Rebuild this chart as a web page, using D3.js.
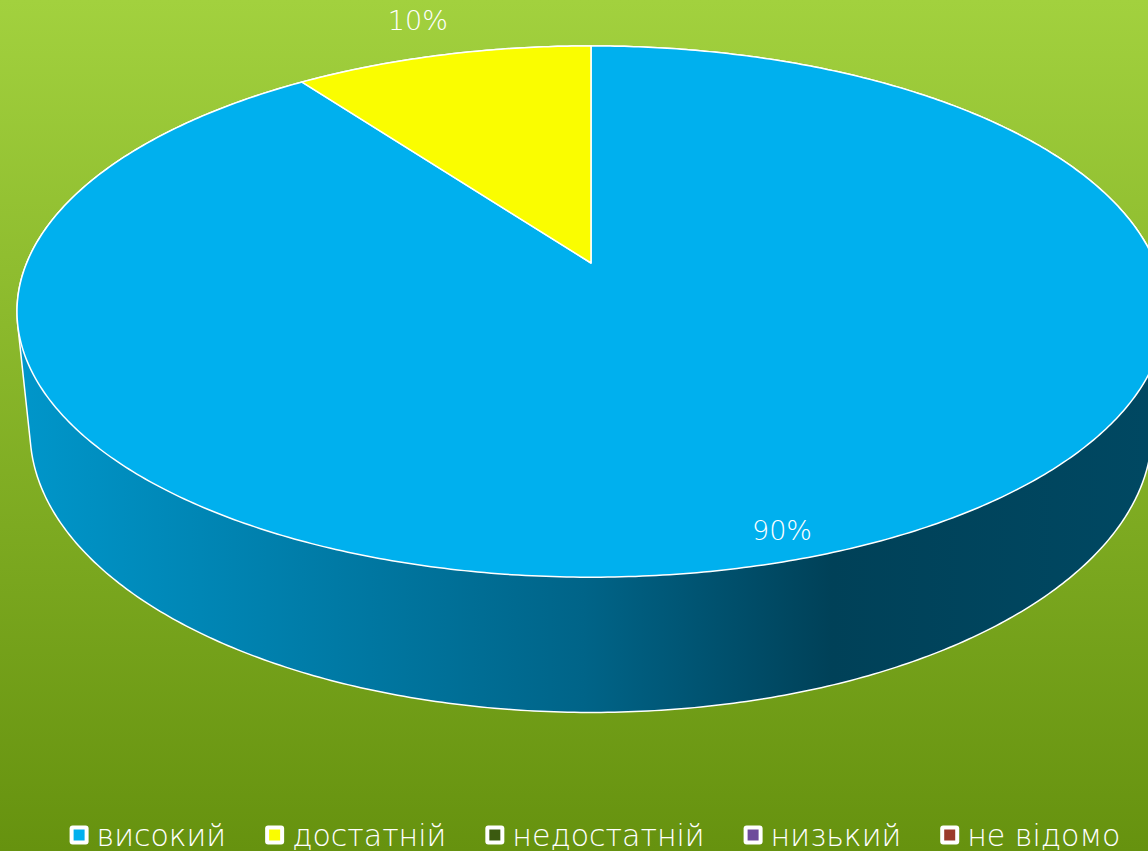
<!DOCTYPE html>
<html>
<head>
<meta charset="utf-8">
<script src="https://cdn.jsdelivr.net/npm/d3@7"></script>
<style>
  html, body { margin: 0; padding: 0; overflow: hidden; }
  svg { display: block; }
  text { font-family: "DejaVu Sans", sans-serif; fill: #fff; }
</style>
</head>
<body>
<div id="chart"></div>
<script>
// data
const categories = ['високий', 'достатній', 'недостатній', 'низький', 'не відомо'];
const values = [90, 10, 0, 0, 0];
const colors = ['#00B0EE', '#FAFD00', '#3B5A10', '#6E4B9B', '#9B3B2B'];

const W = 1148, H = 851;

const data = categories.map((c, i) => ({ name: c, value: values[i], color: colors[i] }));
const total = d3.sum(values);

const svg = d3.select('#chart')
  .append('svg')
  .attr('width', W)
  .attr('height', H);

const defs = svg.append('defs');

// Background gradient
const bg = defs.append('linearGradient')
  .attr('id', 'bg')
  .attr('x1', 0).attr('y1', 0).attr('x2', 0).attr('y2', 1);
bg.append('stop').attr('offset', 0).attr('stop-color', '#a2d13e');
bg.append('stop').attr('offset', 1).attr('stop-color', '#66920f');

svg.append('rect')
  .attr('width', W)
  .attr('height', H)
  .attr('fill', 'url(#bg)');

// Perspective view of the tilted disc
const view = { cx: 591, cy: 263, f: 2750, dist: 4.873, tilt: Math.asin(0.455), depth: 0.24 };
const sinT = Math.sin(view.tilt), cosT = Math.cos(view.tilt);

function project(angle, r, w) {
  const u = r * Math.sin(angle), v = r * Math.cos(angle);
  const yc = v * sinT + w * cosT;
  const zc = view.dist + v * cosT - w * sinT;
  return [view.cx + view.f * u / zc, view.cy - view.f * yc / zc];
}

function arcPoints(a0, a1, w) {
  const n = Math.max(2, Math.ceil((a1 - a0) / 0.01));
  return d3.range(n + 1).map(i => project(a0 + (a1 - a0) * i / n, 1, w));
}

const pie = d3.pie().sort(null).value(d => d.value);
const arcs = pie(data).filter(d => d.value > 0);

// Front-facing part of the outer wall
const frontMin = Math.acos(-1 / (view.dist * cosT));
const frontMax = 2 * Math.PI - frontMin;

// Wall shading: lighter on the left, dark towards the right
const shade = [[0, 0.85], [0.5, 0.57], [0.72, 0.37], [1, 0.41]];
arcs.forEach((d, i) => {
  const g = defs.append('linearGradient')
    .attr('id', 'wall' + i)
    .attr('gradientUnits', 'userSpaceOnUse')
    .attr('x1', 20).attr('y1', 0).attr('x2', W).attr('y2', 0);
  const base = d3.rgb(d.data.color);
  shade.forEach(([o, k]) => {
    g.append('stop')
      .attr('offset', o)
      .attr('stop-color', d3.rgb(base.r * k, base.g * k, base.b * k).formatHex());
  });
});

const line = d3.line();

// Side walls
svg.append('g')
  .selectAll('path')
  .data(arcs)
  .join('path')
  .attr('d', (d, i) => {
    const a0 = Math.max(d.startAngle, frontMin), a1 = Math.min(d.endAngle, frontMax);
    if (a1 <= a0) return null;
    const top = arcPoints(a0, a1, 0);
    const bottom = arcPoints(a0, a1, -view.depth).reverse();
    return line(top.concat(bottom)) + 'Z';
  })
  .attr('fill', (d, i) => 'url(#wall' + i + ')')
  .attr('stroke', 'none');

// Outline of the whole solid
const hull = d3.polygonHull(
  arcPoints(0, 2 * Math.PI, 0).concat(arcPoints(0, 2 * Math.PI, -view.depth))
);
svg.append('path')
  .attr('d', line(hull) + 'Z')
  .attr('fill', 'none')
  .attr('stroke', '#fff')
  .attr('stroke-width', 1.5);

// Top faces
svg.append('g')
  .selectAll('path')
  .data(arcs)
  .join('path')
  .attr('d', d => line([project(0, 0, 0)].concat(arcPoints(d.startAngle, d.endAngle, 0))) + 'Z')
  .attr('fill', d => d.data.color)
  .attr('stroke', '#fff')
  .attr('stroke-width', 1.5)
  .attr('stroke-linejoin', 'round');

// Percent labels
svg.append('g')
  .selectAll('text')
  .data(arcs)
  .join('text')
  .each(function (d) {
    const mid = (d.startAngle + d.endAngle) / 2;
    const share = d.value / total;
    const [x, y] = project(mid, share < 0.15 ? 1.2 : 0.92, 0);
    d3.select(this).attr('x', x).attr('y', y);
  })
  .attr('text-anchor', 'middle')
  .attr('dominant-baseline', 'central')
  .attr('font-size', 27)
  .attr('font-weight', 200)
  .text(d => Math.round(d.value / total * 100) + '%');

// Legend
const legend = svg.append('g');
const items = legend.selectAll('g')
  .data(data)
  .join('g');

items.append('rect')
  .attr('x', 0).attr('y', -9.5)
  .attr('width', 19).attr('height', 19)
  .attr('rx', 3)
  .attr('fill', '#fff');
items.append('rect')
  .attr('x', 4).attr('y', -5.5)
  .attr('width', 11).attr('height', 11)
  .attr('fill', d => d.color);
items.append('text')
  .attr('x', 27)
  .attr('y', 0)
  .attr('dominant-baseline', 'central')
  .attr('font-size', 30)
  .attr('font-weight', 200)
  .text(d => d.name);

let xPos = 0;
items.each(function () {
  const w = d3.select(this).select('text').node().getComputedTextLength();
  d3.select(this).attr('transform', `translate(${xPos},0)`);
  xPos += 27 + w + 39;
});
const legendWidth = xPos - 39;
legend.attr('transform', `translate(${595 - legendWidth / 2},835)`);
</script>
</body>
</html>
